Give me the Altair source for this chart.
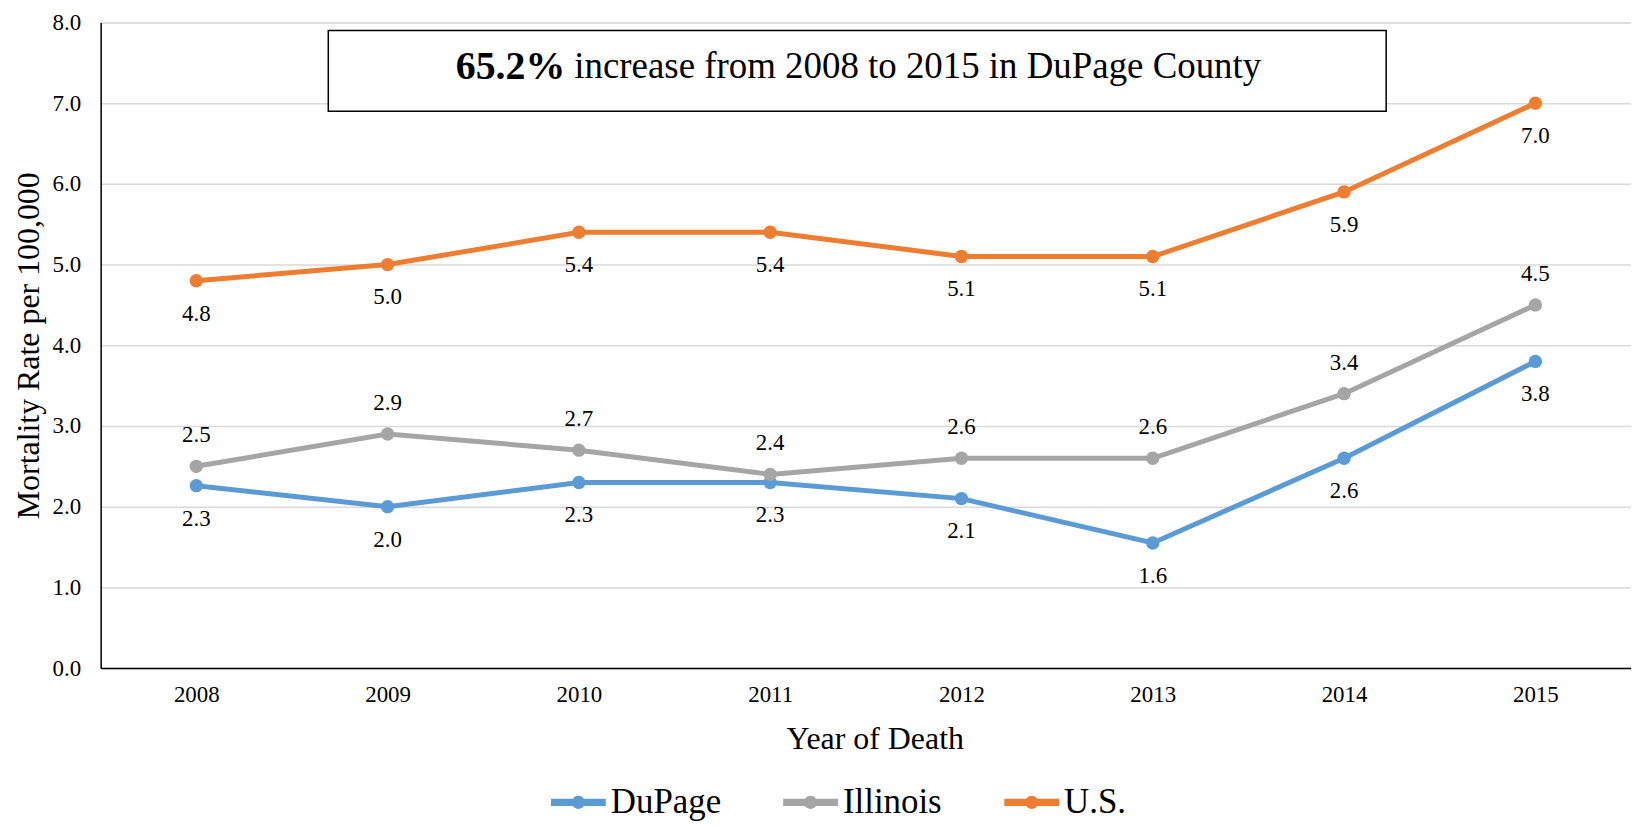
import altair as alt
import pandas as pd

years = [2008, 2009, 2010, 2011, 2012, 2013, 2014, 2015]
series_names = ["DuPage", "Illinois", "U.S."]
series_colors = ["#5B9BD5", "#A5A5A5", "#ED7D31"]

dupage_values = [2.26, 2.0, 2.3, 2.3, 2.1, 1.55, 2.6, 3.8]
dupage_labels = ["2.3", "2.0", "2.3", "2.3", "2.1", "1.6", "2.6", "3.8"]
illinois_values = [2.5, 2.9, 2.7, 2.4, 2.6, 2.6, 3.4, 4.5]
illinois_labels = ["2.5", "2.9", "2.7", "2.4", "2.6", "2.6", "3.4", "4.5"]
us_values = [4.8, 5.0, 5.4, 5.4, 5.1, 5.1, 5.9, 7.0]
us_labels = ["4.8", "5.0", "5.4", "5.4", "5.1", "5.1", "5.9", "7.0"]

y_ticks = [0, 1, 2, 3, 4, 5, 6, 7, 8]
annotation_bold = "65.2%"
annotation_rest = "increase from 2008 to 2015 in DuPage County"

FONT = "Liberation Serif, Times New Roman, serif"

rows = []
for name, vals, labs in [
    ("DuPage", dupage_values, dupage_labels),
    ("Illinois", illinois_values, illinois_labels),
    ("U.S.", us_values, us_labels),
]:
    for yr, v, lb in zip(years, vals, labs):
        rows.append({"series": name, "year": yr, "value": v, "label": lb})
df = pd.DataFrame(rows)

x_enc = alt.X(
    "year:Q",
    scale=alt.Scale(domain=[2007.5, 2015.5], nice=False, zero=False),
    axis=alt.Axis(
        values=years, format="d", grid=False, ticks=False,
        domainColor="#000000", domainWidth=1.5,
        labelFont=FONT, labelFontSize=23, labelColor="#000000",
        labelPadding=16, labelBaseline="top",
        title="Year of Death", titleFont=FONT, titleFontSize=32,
        titleFontWeight="normal", titleColor="#000000",
        titleX=777, titleY=71, titleBaseline="middle", titleAlign="center",
    ),
)
y_enc = alt.Y(
    "value:Q",
    scale=alt.Scale(domain=[0, 8], nice=False),
    axis=alt.Axis(
        values=y_ticks, format=".1f", grid=True, gridColor="#D9D9D9",
        gridWidth=1.5, ticks=False, domainColor="#000000", domainWidth=1.5,
        labelFont=FONT, labelFontSize=23, labelColor="#000000",
        labelPadding=20,
        title="Mortality Rate per 100,000", titleFont=FONT, titleFontSize=32,
        titleFontWeight="normal", titleColor="#000000",
        titleX=-72, titleY=324, titleAngle=-90,
        titleAlign="center", titleBaseline="middle",
    ),
)

legend_symbol = (
    "M-1,-0.13 L1,-0.13 L1,0.13 L-1,0.13 Z "
    "M0.24,0 A0.24,0.24 0 1,1 -0.24,0 A0.24,0.24 0 1,1 0.24,0 Z"
)

color_scale = alt.Scale(domain=series_names, range=series_colors)

lines = alt.Chart(df).mark_line(strokeWidth=5).encode(
    x=x_enc,
    y=y_enc,
    color=alt.Color("series:N", scale=color_scale, sort=series_names,
                    legend=None),
)

points = alt.Chart(df).mark_circle(size=180, opacity=1).encode(
    x="year:Q",
    y="value:Q",
    color=alt.Color(
        "series:N",
        scale=color_scale,
        sort=series_names,
        legend=alt.Legend(
            title=None, orient="none", direction="horizontal",
            legendX=452, legendY=755,
            symbolType=legend_symbol, symbolSize=3025, symbolStrokeWidth=0,
            symbolOpacity=1,
            labelFont=FONT, labelFontSize=35, labelColor="#000000",
            labelOffset=5, columnPadding=62,
        ),
    ),
)

def labels(name, dy):
    return alt.Chart(df).transform_filter(
        alt.datum.series == name
    ).mark_text(
        font=FONT, fontSize=23, color="#000000", dy=dy, baseline="middle"
    ).encode(x="year:Q", y="value:Q", text="label:N")

lab_dupage = labels("DuPage", 33)
lab_illinois = labels("Illinois", -31)
lab_us = labels("U.S.", 33)

box_df = pd.DataFrame([{"x1": 2008.69, "x2": 2014.22, "y1": 6.9, "y2": 7.9,
                        "xm": 2009.95, "ym": 7.45}])
box = alt.Chart(box_df).mark_rect(
    fill="#FFFFFF", stroke="#000000", strokeWidth=1.5
).encode(x="x1:Q", x2="x2:Q", y="y1:Q", y2="y2:Q")

txt_bold = alt.Chart(box_df).mark_text(
    font=FONT, fontSize=40, fontWeight="bold", align="right",
    baseline="middle", dx=-4, color="#000000"
).encode(x="xm:Q", y="ym:Q", text=alt.value(annotation_bold))

txt_rest = alt.Chart(box_df).mark_text(
    font=FONT, fontSize=37, align="left", baseline="middle", dx=5,
    color="#000000"
).encode(x="xm:Q", y="ym:Q", text=alt.value(annotation_rest))

chart = alt.layer(
    lines, points, lab_dupage, lab_illinois, lab_us, box, txt_bold, txt_rest
).resolve_legend(color="independent").properties(
    width=1536, height=648,
    autosize=alt.AutoSizeParams(type="none"),
    padding={"left": 93, "top": 13, "right": 0, "bottom": 158},
).configure_view(stroke=None).configure(background="#FFFFFF")

chart.save("out.html", embed_options={"renderer": "svg", "actions": False})
